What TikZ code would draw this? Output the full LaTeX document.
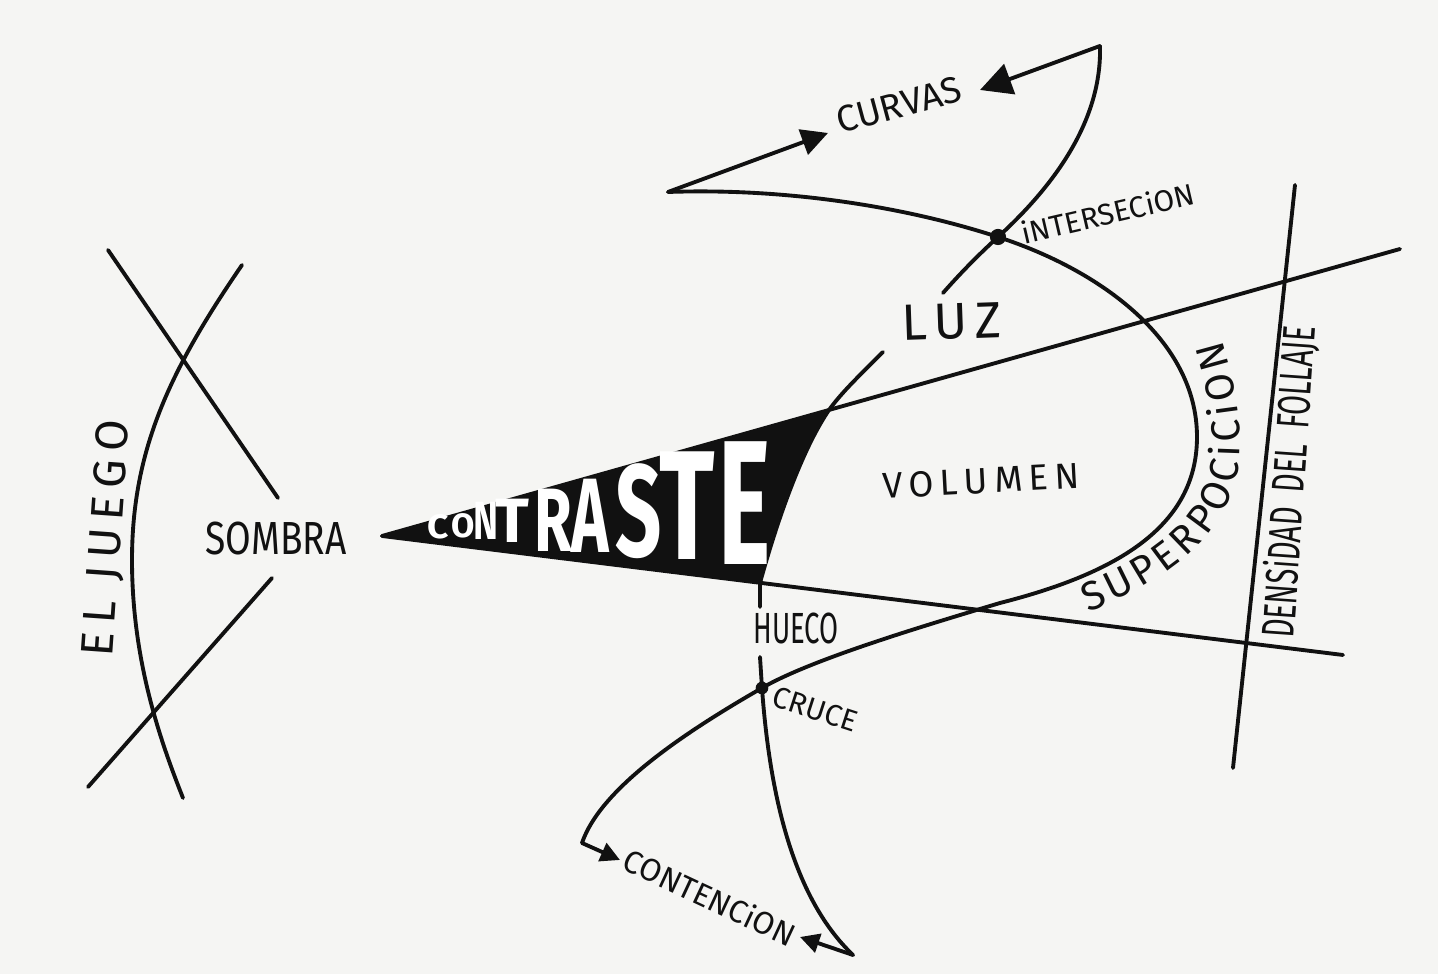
\documentclass[tikz,border=0pt]{standalone}
\usepackage{fontspec}
\setmainfont{Fira Sans}
\newfontfamily\narrowfont[FakeStretch=0.8]{Fira Sans}
\newfontfamily\slimfont[FakeStretch=0.63]{Fira Sans}
\usetikzlibrary{arrows.meta,decorations.text}
\definecolor{SketchInk}{HTML}{111111}
\definecolor{SketchPaper}{HTML}{F5F5F3}

\begin{document}
\begin{tikzpicture}[x=0.01cm,y=-0.01cm,line cap=round,line join=round,
    ink/.style={SketchInk,line width=1.1pt},
    word/.style={text=SketchInk,inner sep=0pt},
    headtip/.style={-{Triangle[length=#1,width=#1]}}]
  \fill[SketchPaper] (0,0) rectangle (1438,974);
  \useasboundingbox (0,0) rectangle (1438,974);

  \coordinate (tip) at (382,536);
  \coordinate (rayhi) at (1400,249);
  \coordinate (raylo) at (1343,655);
  \coordinate (penhi) at (829,410);
  \coordinate (penlo) at (760,583);
  \coordinate (inter) at (998,237);
  \coordinate (cruce) at (762,688);
  \coordinate (curvL) at (668,192);
  \coordinate (curvR) at (1100,46);
  \coordinate (curvtipL) at (828,133);
  \coordinate (curvtipR) at (980,90);
  \coordinate (contL) at (582,843);
  \coordinate (contR) at (853,955);
  \coordinate (conttipL) at (620,860);
  \coordinate (conttipR) at (800,937);

  \fill[SketchInk] (tip) -- (penhi) .. controls (805,445) and (780,510) .. (penlo) -- cycle;
  \draw[ink] (tip) -- (rayhi);
  \draw[ink] (tip) -- (raylo);

  \draw[ink] (curvL) .. controls (780,188) and (900,205) .. (inter)
    .. controls (1100,270) and (1197,340) .. (1197,437)
    .. controls (1197,530) and (1110,575) .. (1000,603)
    .. controls (920,627) and (810,660) .. (cruce)
    .. controls (680,735) and (600,790) .. (contL);
  \draw[ink] (curvR) .. controls (1102,120) and (1055,185) .. (inter)
    .. controls (975,258) and (958,276) .. (943,293);
  \draw[ink] (883,352) .. controls (860,375) and (842,392) .. (penhi)
    .. controls (805,445) and (780,510) .. (penlo) -- (760,607);
  \draw[ink] (760,657) -- (cruce) .. controls (770,800) and (795,900) .. (contR);

  \draw[ink] (108,250) -- (278,498);
  \draw[ink] (272,578) -- (88,787);
  \draw[ink] (242,265) .. controls (170,370) and (132,450) .. (132,560)
    .. controls (132,660) and (160,740) .. (183,798);
  \draw[ink] (1295,185) -- (1233,768);

  \draw[ink,headtip=7.5pt] (curvL) -- (curvtipL);
  \draw[ink,headtip=9pt] (curvR) -- (curvtipR);
  \draw[ink,headtip=5.5pt] (contL) -- (conttipL);
  \draw[ink,headtip=5.5pt] (contR) -- (conttipR);
  \fill[SketchInk] (inter) circle[radius=2.3pt];
  \fill[SketchInk] (cruce) circle[radius=1.8pt];

  \foreach \ch/\xx/\yy/\sz/\sx [count=\k] in {C/438/539/9.6/1.1, O/463/538/9.6/1,
      N/486/540/15.3/0.7, T/512/543/17.8/1, R/553/552/25.6/0.68, A/590/553/30.1/0.6,
      S/639/557/37.2/0.62, T/687/560/44.2/0.66, E/745/565/50.4/0.56}
    \node[word,text=white,anchor=base,xscale=\sx,
      font=\bfseries\fontsize{\sz}{\sz}\selectfont] (contraste\k) at (\xx,\yy) {\ch};

  \node[word,font=\narrowfont\fontsize{13.2}{13.2}\selectfont] (sombra) at (276,539) {SOMBRA};
  \node[word,rotate=86,font=\fontsize{13}{13}\selectfont\addfontfeature{LetterSpace=18}] (juego) at (108,538) {EL JUEGO};
  \node[word,rotate=2,font=\fontsize{14.5}{14.5}\selectfont\addfontfeature{LetterSpace=15}] (luz) at (952,322) {LUZ};
  \node[word,rotate=3,font=\fontsize{10.3}{10.3}\selectfont\addfontfeature{LetterSpace=18}] (volumen) at (981,481) {VOLUMEN};
  \node[word,rotate=15,font=\fontsize{10.5}{10.5}\selectfont] (curvas) at (899,105) {CURVAS};
  \node[word,rotate=13,font=\fontsize{8.5}{8.5}\selectfont] (inters) at (1108,213) {iNTERSECiON};
  \node[word,font=\slimfont\fontsize{12.4}{12.4}\selectfont] (hueco) at (796,628) {HUECO};
  \node[word,rotate=-18,font=\fontsize{8.5}{8.5}\selectfont] (cruceword) at (815,709) {CRUCE};
  \node[word,rotate=-25,font=\fontsize{9}{9}\selectfont] (contencion) at (710,897) {CONTENCiON};
  \node[word,rotate=86,font=\slimfont\fontsize{13}{13}\selectfont] (densidad) at (1290,482) {DENSiDAD~~DEL~~FOLLAJE};
  \path[decorate,decoration={text along path,text align=fit to path,text color=SketchInk,
      text={|\fontsize{11.5}{11.5}\selectfont|SUPERPOCiCiON}}]
    (1088,612) .. controls (1170,580) and (1238,530) .. (1240,450)
    .. controls (1241,410) and (1232,375) .. (1222,340);
\end{tikzpicture}
\end{document}
